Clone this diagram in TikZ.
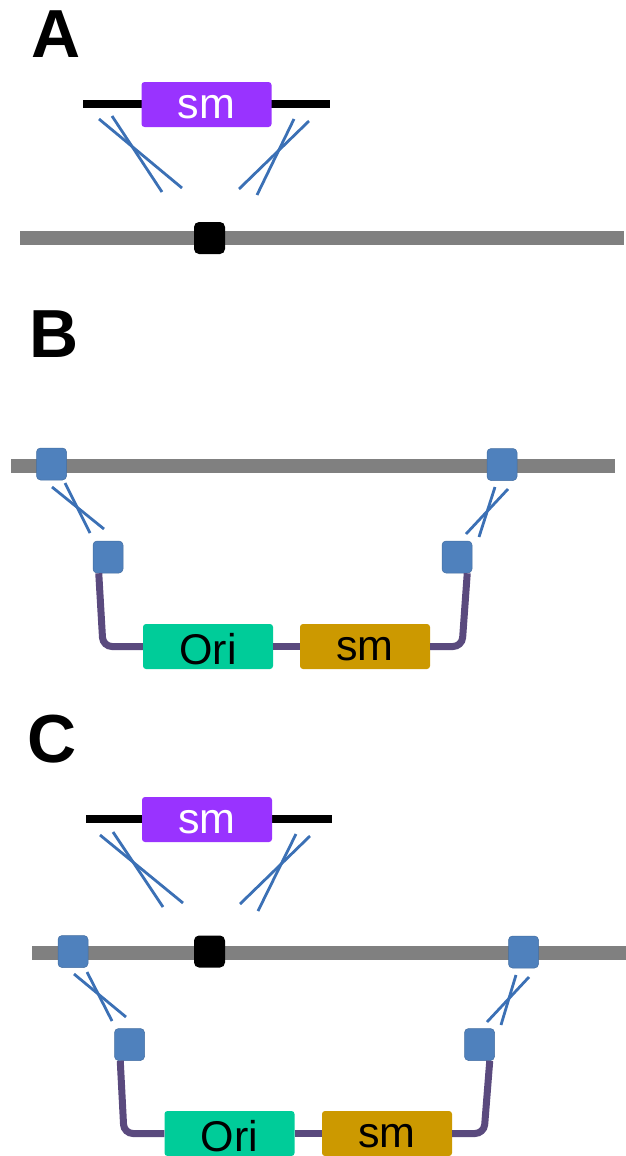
\documentclass[tikz,border=0pt]{standalone}
\usepackage{fontspec}
\setmainfont{Liberation Sans}
\usetikzlibrary{calc}
\definecolor{smpurple}{HTML}{9933FF}
\definecolor{origreen}{HTML}{00CC99}
\definecolor{smgold}{HTML}{CC9900}
\definecolor{sqblue}{HTML}{4F81BD}
\definecolor{xblue}{HTML}{3B70B5}
\definecolor{linkpurple}{HTML}{5A4A7E}
\definecolor{chromgray}{HTML}{808080}
\begin{document}
\begin{tikzpicture}[x=1pt,y=-1pt,
  chrom/.style={draw=chromgray, line width=13.5pt},
  donor/.style={draw=black, line width=8pt},
  xline/.style={draw=xblue, line width=2.8pt},
  link/.style={draw=linkpurple, line width=7pt, rounded corners=9pt},
  box/.style={rectangle, rounded corners=3pt, minimum width=130pt, minimum height=45pt, inner sep=0pt, font=\fontsize{43}{43}\selectfont},
  smtext/.style={text height=27pt, text depth=0pt},
  oritext/.style={text height=35pt, text depth=0pt},
  bluesq/.style={rectangle, rounded corners=4pt, fill=sqblue, draw=sqblue!85!black, line width=0.5pt, minimum width=30pt, minimum height=32pt, inner sep=0pt},
  blacksq/.style={rectangle, rounded corners=5pt, fill=black, minimum width=31pt, minimum height=32pt, inner sep=0pt},
  panel/.style={anchor=base west, inner sep=0pt, font=\fontsize{68}{68}\selectfont\bfseries}]
\useasboundingbox (0,0) rectangle (626,1156);
\clip (0,0) rectangle (626,1156);

% ---------------- Panel A ----------------
\node[panel] (labA) at (31,57) {A};
\draw[chrom] (20,238) -- (624,238);
\node[blacksq] (A-site) at (209.5,238) {};
\draw[donor] (83,104) -- (330,104);
\node[box, smtext, fill=smpurple, text=white] (A-sm) at (206.5,104.5) {sm};
\draw[xline] (99,119) -- (182,188);
\draw[xline] (112,116) -- (162,192);
\draw[xline] (294,119) -- (257,195);
\draw[xline] (309,121) -- (239,189);

% ---------------- Panel B ----------------
\node[panel] (labB) at (29,357) {B};
\draw[chrom] (11,466) -- (615,466);
\node[bluesq] (B-h1) at (51.5,464) {};
\node[bluesq] (B-h2) at (502,464.5) {};
\node[bluesq] (B-p1) at (108,557) {};
\node[bluesq] (B-p2) at (457,557) {};
\draw[xline] (52,487) -- (104,529);
\draw[xline] (65,483) -- (90,533);
\draw[xline] (508,489) -- (466,534);
\draw[xline] (495,487) -- (479,537);
\node[box, oritext, fill=origreen] (B-ori) at (208,646.5) {Ori};
\node[box, smtext, fill=smgold] (B-sm) at (365,646.5) {sm};
\draw[link] ($(B-p1.south west)+(6,0)$) -- (103,646.5) -- (B-ori.west);
\draw[link] (B-ori.east) -- (B-sm.west);
\draw[link] (B-sm.east) -- (462,646.5) -- ($(B-p2.south east)+(-5,0)$);

% ---------------- Panel C ----------------
\node[panel] (labC) at (27,762) {C};
\draw[donor] (86,819) -- (332,819);
\node[box, smtext, fill=smpurple, text=white] (C-sm1) at (207,819.5) {sm};
\draw[xline] (100,835) -- (183,903);
\draw[xline] (113,832) -- (163,907);
\draw[xline] (296,834) -- (258,911);
\draw[xline] (310,836) -- (240,904);
\draw[chrom] (32,953) -- (626,953);
\node[bluesq] (C-h1) at (73,951.5) {};
\node[blacksq] (C-site) at (209.5,951.5) {};
\node[bluesq] (C-h2) at (523.5,952) {};
\node[bluesq] (C-p1) at (129.5,1044.5) {};
\node[bluesq] (C-p2) at (479.5,1044.5) {};
\draw[xline] (74,974) -- (126,1017);
\draw[xline] (87,972) -- (112,1021);
\draw[xline] (529,977) -- (487,1022);
\draw[xline] (516,975) -- (501,1025);
\node[box, oritext, fill=origreen] (C-ori) at (229.5,1133.5) {Ori};
\node[box, smtext, fill=smgold] (C-sm2) at (387,1133.5) {sm};
\draw[link] ($(C-p1.south west)+(6,0)$) -- (124,1133.5) -- (C-ori.west);
\draw[link] (C-ori.east) -- (C-sm2.west);
\draw[link] (C-sm2.east) -- (484,1133.5) -- ($(C-p2.south east)+(-5,0)$);
\end{tikzpicture}
\end{document}
